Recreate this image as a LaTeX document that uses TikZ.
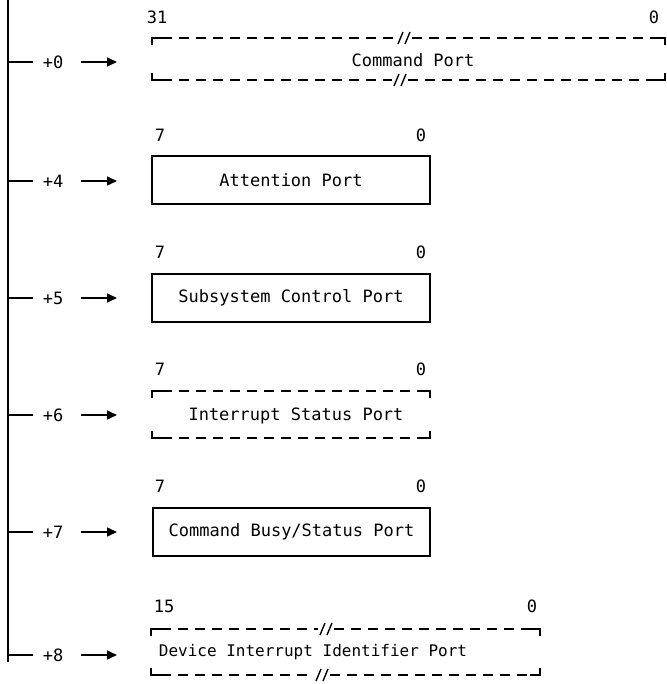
\documentclass[tikz,border=0pt]{standalone}
\usepackage{fontspec}
\setmainfont{DejaVu Sans Mono}
\usetikzlibrary{arrows.meta}
\tikzset{
  edge/.style={line width=1.4pt, line cap=butt},
  dashedge/.style={edge, dash pattern=on 10pt off 7pt},
  lbl/.style={font=\fontsize{17}{18}\selectfont, inner sep=0pt, anchor=center},
  smalllbl/.style={lbl, font=\fontsize{16}{17}\selectfont},
  portbox/.style={draw, line width=1.4pt, inner sep=0pt},
  ptr/.style={line width=1.5pt, -{Triangle[length=10pt,width=9pt]}}
}
\newcommand\cornerbox[4]{%
  \draw[edge] (#1,#2+7) -- (#1,#2) -- (#1+10,#2);
  \draw[edge] (#3-10,#2) -- (#3,#2) -- (#3,#2+7);
  \draw[edge] (#1,#4-7) -- (#1,#4) -- (#1+10,#4);
  \draw[edge] (#3-10,#4) -- (#3,#4) -- (#3,#4-7);
}
\newcommand\brk[2]{% slashes centred at x=#1 on line y=#2
  \draw[edge] (#1-6,#2+6) -- (#1-1,#2-6);
  \draw[edge] (#1+1,#2+6) -- (#1+6,#2-6);
}
\begin{document}
\begin{tikzpicture}[x=1pt,y=-1pt]
\useasboundingbox (0,0) rectangle (666,684);
% bus line
\coordinate (top) at (8,0);
\coordinate (bot) at (8,662);
\draw[edge] (top) -- (bot);

% offsets
\foreach \yy/\off/\nm in {62/+0/a,181/+4/b,298/+5/c,415/+6/d,532/+7/e,655/+8/f}{
  \coordinate (t\nm) at (8,\yy);
  \coordinate (te\nm) at (33,\yy);
  \draw[edge] (t\nm) -- (te\nm);
  \node[lbl] (o\nm) at (53,\yy) {\off};
  \coordinate (as\nm) at (81,\yy);
  \coordinate (ae\nm) at (117,\yy);
  \draw[ptr] (as\nm) -- (ae\nm);
}

% Command Port (dashed, 32 bit)
\cornerbox{152}{38}{665}{80}
\draw[dashedge] (162,38) -- (396,38);
\draw[dashedge] (412,38) -- (655,38);
\brk{404}{38}
\draw[dashedge] (162,80) -- (392,80);
\draw[dashedge] (408,80) -- (655,80);
\brk{400}{80}
\node[lbl] (cmd) at (413,60) {Command Port};
\node[lbl] (cmdhi) at (157,17) {31};
\node[lbl] (cmdlo) at (654,17) {0};

% Attention Port
\node[portbox, minimum width=278pt, minimum height=48pt] (att) at (291,180) {};
\node[lbl] at (att) {Attention Port};
\node[lbl] (atthi) at (160,135) {7};
\node[lbl] (attlo) at (421,135) {0};

% Subsystem Control Port
\node[portbox, minimum width=278pt, minimum height=48pt] (scp) at (291,298) {};
\node[lbl] at (scp) {Subsystem Control Port};
\node[lbl] (scphi) at (160,252) {7};
\node[lbl] (scplo) at (421,252) {0};

% Interrupt Status Port (dashed)
\cornerbox{152}{391}{430}{438}
\draw[dashedge] (162,391) -- (420,391);
\draw[dashedge] (162,438) -- (420,438);
\node[lbl] (isp) at (296,416) {Interrupt Status Port};
\node[lbl] (isphi) at (160,369) {7};
\node[lbl] (isplo) at (421,369) {0};

% Command Busy/Status Port
\node[portbox, minimum width=277pt, minimum height=48pt] (cbs) at (291.5,532) {};
\node[lbl] at (cbs) {Command Busy/Status Port};
\node[lbl] (cbshi) at (160,486) {7};
\node[lbl] (cbslo) at (421,486) {0};

% Device Interrupt Identifier Port (dashed, 16 bit)
\cornerbox{151}{629}{540}{675}
\draw[dashedge] (161,629) -- (318,629);
\draw[dashedge] (334,629) -- (530,629);
\brk{326}{629}
\draw[dashedge] (161,675) -- (314,675);
\draw[dashedge] (330,675) -- (530,675);
\brk{322}{675}
\node[smalllbl] (dii) at (313,652) {Device Interrupt Identifier Port};
\node[lbl] (diihi) at (164,606) {15};
\node[lbl] (diilo) at (532,606) {0};
\end{tikzpicture}
\end{document}
